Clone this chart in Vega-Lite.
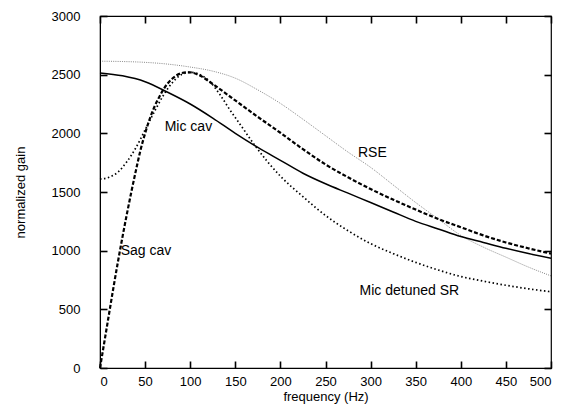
{
  "$schema": "https://vega.github.io/schema/vega-lite/v6.json",
  "width": 451,
  "height": 352,
  "autosize": {"type": "none"},
  "padding": {"left": 100, "top": 16, "right": 16, "bottom": 41},
  "background": "white",
  "config": {
    "font": "Liberation Sans",
    "view": {"stroke": "black", "strokeWidth": 1.2},
    "axis": {
      "grid": false,
      "domainColor": "black",
      "labelColor": "black",
      "labelFont": "Liberation Sans",
      "labelFontSize": 13,
      "titleColor": "black",
      "titleFont": "Liberation Sans",
      "titleFontSize": 13,
      "titleFontWeight": "normal",
      "format": "d"
    }
  },
  "datasets": {
    "curves": [
      {"series": "Mic cav", "f": 0, "g": 2515},
      {"series": "Mic cav", "f": 25, "g": 2490},
      {"series": "Mic cav", "f": 50, "g": 2440},
      {"series": "Mic cav", "f": 75, "g": 2350},
      {"series": "Mic cav", "f": 100, "g": 2250},
      {"series": "Mic cav", "f": 125, "g": 2130},
      {"series": "Mic cav", "f": 150, "g": 2000},
      {"series": "Mic cav", "f": 175, "g": 1880},
      {"series": "Mic cav", "f": 200, "g": 1770},
      {"series": "Mic cav", "f": 225, "g": 1660},
      {"series": "Mic cav", "f": 250, "g": 1570},
      {"series": "Mic cav", "f": 275, "g": 1490},
      {"series": "Mic cav", "f": 300, "g": 1410},
      {"series": "Mic cav", "f": 325, "g": 1330},
      {"series": "Mic cav", "f": 350, "g": 1250},
      {"series": "Mic cav", "f": 375, "g": 1185},
      {"series": "Mic cav", "f": 400, "g": 1120},
      {"series": "Mic cav", "f": 425, "g": 1070},
      {"series": "Mic cav", "f": 450, "g": 1020},
      {"series": "Mic cav", "f": 475, "g": 975},
      {"series": "Mic cav", "f": 500, "g": 935},

      {"series": "Sag cav", "f": 0, "g": 0},
      {"series": "Sag cav", "f": 5, "g": 230},
      {"series": "Sag cav", "f": 10, "g": 460},
      {"series": "Sag cav", "f": 15, "g": 690},
      {"series": "Sag cav", "f": 20, "g": 910},
      {"series": "Sag cav", "f": 25, "g": 1120},
      {"series": "Sag cav", "f": 30, "g": 1320},
      {"series": "Sag cav", "f": 35, "g": 1510},
      {"series": "Sag cav", "f": 40, "g": 1690},
      {"series": "Sag cav", "f": 45, "g": 1860},
      {"series": "Sag cav", "f": 50, "g": 2000},
      {"series": "Sag cav", "f": 55, "g": 2120},
      {"series": "Sag cav", "f": 60, "g": 2220},
      {"series": "Sag cav", "f": 65, "g": 2300},
      {"series": "Sag cav", "f": 70, "g": 2370},
      {"series": "Sag cav", "f": 75, "g": 2425},
      {"series": "Sag cav", "f": 80, "g": 2465},
      {"series": "Sag cav", "f": 85, "g": 2495},
      {"series": "Sag cav", "f": 90, "g": 2512},
      {"series": "Sag cav", "f": 95, "g": 2520},
      {"series": "Sag cav", "f": 100, "g": 2520},
      {"series": "Sag cav", "f": 110, "g": 2495},
      {"series": "Sag cav", "f": 125, "g": 2420},
      {"series": "Sag cav", "f": 150, "g": 2280},
      {"series": "Sag cav", "f": 175, "g": 2140},
      {"series": "Sag cav", "f": 200, "g": 2005},
      {"series": "Sag cav", "f": 225, "g": 1865},
      {"series": "Sag cav", "f": 250, "g": 1735},
      {"series": "Sag cav", "f": 275, "g": 1625},
      {"series": "Sag cav", "f": 300, "g": 1525},
      {"series": "Sag cav", "f": 325, "g": 1435},
      {"series": "Sag cav", "f": 350, "g": 1350},
      {"series": "Sag cav", "f": 375, "g": 1270},
      {"series": "Sag cav", "f": 400, "g": 1200},
      {"series": "Sag cav", "f": 425, "g": 1130},
      {"series": "Sag cav", "f": 450, "g": 1070},
      {"series": "Sag cav", "f": 475, "g": 1020},
      {"series": "Sag cav", "f": 500, "g": 975},

      {"series": "RSE", "f": 0, "g": 2615},
      {"series": "RSE", "f": 25, "g": 2612},
      {"series": "RSE", "f": 50, "g": 2605},
      {"series": "RSE", "f": 75, "g": 2590},
      {"series": "RSE", "f": 100, "g": 2565},
      {"series": "RSE", "f": 125, "g": 2530},
      {"series": "RSE", "f": 150, "g": 2470},
      {"series": "RSE", "f": 175, "g": 2370},
      {"series": "RSE", "f": 200, "g": 2255},
      {"series": "RSE", "f": 225, "g": 2120},
      {"series": "RSE", "f": 250, "g": 1980},
      {"series": "RSE", "f": 275, "g": 1840},
      {"series": "RSE", "f": 300, "g": 1710},
      {"series": "RSE", "f": 325, "g": 1560},
      {"series": "RSE", "f": 350, "g": 1410},
      {"series": "RSE", "f": 375, "g": 1270},
      {"series": "RSE", "f": 400, "g": 1130},
      {"series": "RSE", "f": 425, "g": 1030},
      {"series": "RSE", "f": 450, "g": 945},
      {"series": "RSE", "f": 475, "g": 860},
      {"series": "RSE", "f": 500, "g": 785},

      {"series": "Mic detuned SR", "f": 0, "g": 1610},
      {"series": "Mic detuned SR", "f": 10, "g": 1625},
      {"series": "Mic detuned SR", "f": 20, "g": 1670},
      {"series": "Mic detuned SR", "f": 30, "g": 1760},
      {"series": "Mic detuned SR", "f": 40, "g": 1880},
      {"series": "Mic detuned SR", "f": 50, "g": 2030},
      {"series": "Mic detuned SR", "f": 60, "g": 2180},
      {"series": "Mic detuned SR", "f": 70, "g": 2320},
      {"series": "Mic detuned SR", "f": 80, "g": 2430},
      {"series": "Mic detuned SR", "f": 90, "g": 2500},
      {"series": "Mic detuned SR", "f": 100, "g": 2520},
      {"series": "Mic detuned SR", "f": 111, "g": 2500},
      {"series": "Mic detuned SR", "f": 122, "g": 2440},
      {"series": "Mic detuned SR", "f": 133, "g": 2330},
      {"series": "Mic detuned SR", "f": 144, "g": 2200},
      {"series": "Mic detuned SR", "f": 155, "g": 2080},
      {"series": "Mic detuned SR", "f": 170, "g": 1915},
      {"series": "Mic detuned SR", "f": 185, "g": 1765},
      {"series": "Mic detuned SR", "f": 200, "g": 1635},
      {"series": "Mic detuned SR", "f": 225, "g": 1460},
      {"series": "Mic detuned SR", "f": 250, "g": 1300},
      {"series": "Mic detuned SR", "f": 275, "g": 1170},
      {"series": "Mic detuned SR", "f": 300, "g": 1060},
      {"series": "Mic detuned SR", "f": 325, "g": 975},
      {"series": "Mic detuned SR", "f": 350, "g": 900},
      {"series": "Mic detuned SR", "f": 375, "g": 835},
      {"series": "Mic detuned SR", "f": 400, "g": 780},
      {"series": "Mic detuned SR", "f": 425, "g": 740},
      {"series": "Mic detuned SR", "f": 450, "g": 705},
      {"series": "Mic detuned SR", "f": 475, "g": 675},
      {"series": "Mic detuned SR", "f": 500, "g": 650}
    ],
    "labels": [
      {"label": "Mic cav", "f": 98, "g": 2050},
      {"label": "RSE", "f": 302, "g": 1830},
      {"label": "Sag cav", "f": 51, "g": 995},
      {"label": "Mic detuned SR", "f": 343, "g": 660}
    ]
  },
  "layer": [
    {
      "data": {"name": "curves"},
      "transform": [{"filter": "datum.series === 'Mic cav'"}],
      "mark": {"type": "line", "interpolate": "monotone", "color": "black", "strokeWidth": 1.5},
      "encoding": {
        "x": {
          "field": "f", "type": "quantitative",
          "scale": {"domain": [0, 500], "nice": false},
          "axis": {"values": [0, 50, 100, 150, 200, 250, 300, 350, 400, 450, 500], "title": "frequency (Hz)", "ticks": true, "tickSize": -7, "tickWidth": 1.6, "tickColor": "black", "labelPadding": 14, "titlePadding": 2}
        },
        "y": {
          "field": "g", "type": "quantitative",
          "scale": {"domain": [0, 3000], "nice": false},
          "axis": {"values": [0, 500, 1000, 1500, 2000, 2500, 3000], "title": "normalized gain", "ticks": true, "tickSize": -7, "tickWidth": 1.6, "tickColor": "black", "labelPadding": 27, "titlePadding": 24}
        }
      }
    },
    {
      "data": {"name": "curves"},
      "transform": [{"filter": "datum.series === 'Sag cav'"}],
      "mark": {"type": "line", "interpolate": "monotone", "color": "black", "strokeWidth": 2.2, "strokeDash": [4, 2]},
      "encoding": {
        "x": {"field": "f", "type": "quantitative", "axis": null},
        "y": {"field": "g", "type": "quantitative", "axis": null}
      }
    },
    {
      "data": {"name": "curves"},
      "transform": [{"filter": "datum.series === 'RSE'"}],
      "mark": {"type": "line", "interpolate": "monotone", "color": "black", "strokeWidth": 0.8, "strokeDash": [1, 1.2], "opacity": 0.6},
      "encoding": {
        "x": {"field": "f", "type": "quantitative", "axis": null},
        "y": {"field": "g", "type": "quantitative", "axis": null}
      }
    },
    {
      "data": {"name": "curves"},
      "transform": [{"filter": "datum.series === 'Mic detuned SR'"}],
      "mark": {"type": "line", "interpolate": "monotone", "color": "black", "strokeWidth": 1.7, "strokeDash": [1.5, 2.5]},
      "encoding": {
        "x": {"field": "f", "type": "quantitative", "axis": null},
        "y": {"field": "g", "type": "quantitative", "axis": null}
      }
    },
    {
      "data": {"name": "labels"},
      "mark": {"type": "text", "font": "Liberation Sans", "fontSize": 14, "color": "black", "align": "center", "baseline": "middle"},
      "encoding": {
        "x": {"field": "f", "type": "quantitative", "axis": {"orient": "top", "domain": false, "ticks": true, "tickSize": -7, "tickWidth": 1.6, "tickColor": "black", "values": [0, 50, 100, 150, 200, 250, 300, 350, 400, 450, 500], "labels": false, "title": null}},
        "y": {"field": "g", "type": "quantitative", "axis": {"orient": "right", "domain": false, "ticks": true, "tickSize": -7, "tickWidth": 1.6, "tickColor": "black", "values": [0, 500, 1000, 1500, 2000, 2500, 3000], "labels": false, "title": null}},
        "text": {"field": "label"}
      }
    }
  ],
  "resolve": {"axis": {"x": "independent", "y": "independent"}}
}
